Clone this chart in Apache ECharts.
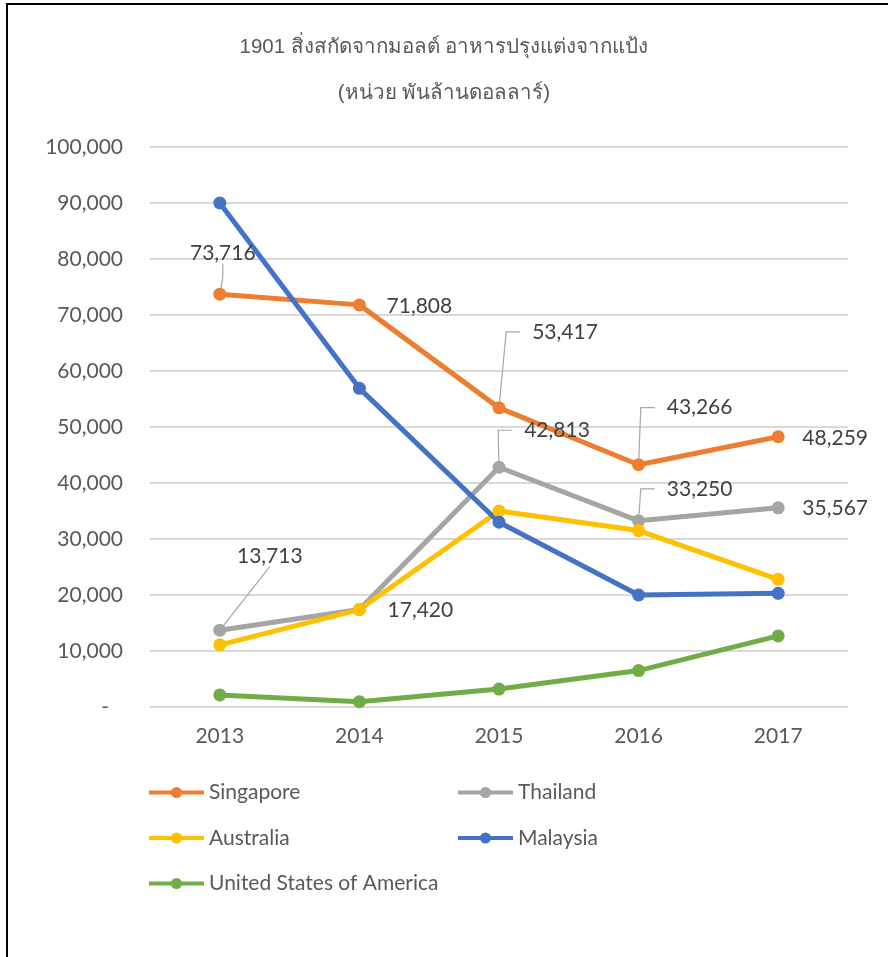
<!DOCTYPE html>
<html>
<head>
<meta charset="utf-8">
<script src="https://cdn.jsdelivr.net/npm/echarts@6/dist/echarts.min.js"></script>
<style>
  body { margin: 0; background: #fff; }
  #chart { width: 888px; height: 957px; }
  .frame {
    position: absolute; left: 6px; top: 3px; right: 0; bottom: 0;
    border-left: 2px solid #000; border-top: 2px solid #000;
    pointer-events: none;
  }
</style>
</head>
<body>
<div id="chart"></div>
<div class="frame"></div>
<script>
const years = ['2013', '2014', '2015', '2016', '2017']
const singapore = [73716, 71808, 53417, 43266, 48259]
const thailand = [13713, 17420, 42813, 33250, 35567]
const australia = [11100, 17400, 35000, 31500, 22800]
const malaysia = [90000, 56900, 33000, 20000, 20300]
const usa = [2150, 950, 3200, 6500, 12700]
const yTicks = [0, 100000, 10000]

// label shift from the point: [dx, dy, leader line, leader elbow, side padding]
const sgShift = [[3, -41, true, 14, 12], [60, 1, false, 0, 0], [66, -76, true, 14, 12], [61, -57, true, 14, 12], [57, 1, false, 0, 0]]
const thShift = [[50, -74, true, 0, 60], [61, 1, false, 0, 0], [58, -37, true, 14, 12], [61, -32, true, 14, 12], [57, 0, false, 0, 0]]

const font = 'Lato, "Liberation Sans", sans-serif'

function withLabels (values, shift) {
  return values.map((v, i) => ({
    value: v,
    // transparent box so the side padding counts for the leader line
    label: { padding: [0, shift[i][4]], backgroundColor: 'rgba(255,255,255,0)' },
    labelLine: { show: shift[i][2], length2: shift[i][3] }
  }))
}

function makeSeries (name, color, data, shift) {
  let s = {
    name: name,
    type: 'line',
    data: data,
    symbol: 'circle',
    symbolSize: 13,
    lineStyle: { color: color, width: 5 },
    itemStyle: { color: color },
    label: { show: false }
  }
  if (shift) {
    s.data = withLabels(data, shift)
    s.label = {
      show: true,
      position: 'inside',
      fontSize: 21,
      fontFamily: font,
      color: '#404040',
      formatter: p => p.value.toLocaleString('en-US')
    }
    s.labelLine = { show: true, minTurnAngle: 0, lineStyle: { color: '#A6A6A6', width: 1.2 } }
    s.labelLayout = p => ({ dx: shift[p.dataIndex][0], dy: shift[p.dataIndex][1] })
  }
  return s
}

let myChart = echarts.init(document.getElementById('chart'))
let titleText = { fontSize: 20.5, fontWeight: 'normal', color: '#595959' }
let legendText = { fontSize: 21, fontFamily: font, color: '#595959' }
let option = {
  animation: false,
  title: [
    { text: '1901 สิ่งสกัดจากมอลต์ อาหารปรุงแต่งจากแป้ง', left: 'center', top: 37, padding: 0, textStyle: titleText },
    { text: '(หน่วย พันล้านดอลลาร์)', left: 'center', top: 83, padding: 0, textStyle: titleText }
  ],
  legend: [
    {
      data: ['Singapore', 'Australia', 'United States of America'],
      orient: 'vertical', left: 147, top: 782, padding: 0,
      itemWidth: 55, itemHeight: 14, itemGap: 24.5,
      lineStyle: { width: 4 },
      textStyle: legendText
    },
    {
      data: ['Thailand', 'Malaysia'],
      orient: 'vertical', left: 456, top: 782, padding: 0,
      itemWidth: 55, itemHeight: 14, itemGap: 24.5,
      lineStyle: { width: 4 },
      textStyle: legendText
    }
  ],
  grid: { left: 150, right: 40, top: 147, bottom: 250 },
  xAxis: {
    type: 'category',
    data: years,
    boundaryGap: true,
    axisLine: { show: false },
    axisTick: { show: false },
    axisLabel: { fontSize: 21, fontFamily: font, color: '#595959', margin: 19 }
  },
  yAxis: {
    type: 'value',
    min: yTicks[0],
    max: yTicks[1],
    interval: yTicks[2],
    axisLine: { show: false },
    axisTick: { show: false },
    splitLine: { lineStyle: { color: '#D9D9D9', width: 2 } },
    axisLabel: {
      fontSize: 21, fontFamily: font, color: '#595959', margin: 27,
      formatter: v => v === 0 ? '{d|-}' : v.toLocaleString('en-US'),
      rich: { d: { fontSize: 21, fontFamily: font, color: '#595959', padding: [0, 14, 0, 0] } }
    }
  },
  series: [
    makeSeries('Singapore', '#ED7D31', singapore, sgShift),
    makeSeries('Thailand', '#A5A5A5', thailand, thShift),
    makeSeries('Australia', '#FFC000', australia),
    makeSeries('Malaysia', '#4472C4', malaysia),
    makeSeries('United States of America', '#70AD47', usa)
  ]
}
myChart.setOption(option)
</script>
</body>
</html>
